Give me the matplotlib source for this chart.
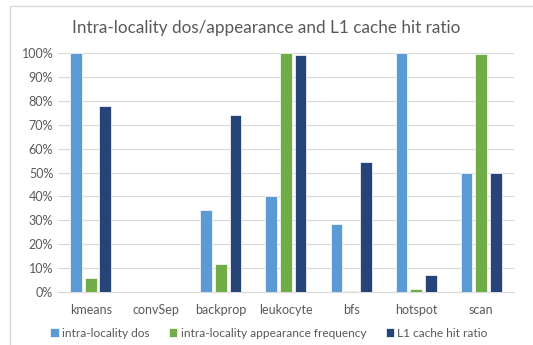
import numpy as np
import matplotlib.pyplot as plt
from matplotlib.patches import Rectangle

plt.rcParams['font.family'] = ['Lato', 'DejaVu Sans']

benchmarks = ['kmeans', 'convSep', 'backprop', 'leukocyte', 'bfs', 'hotspot', 'scan']
dos = [100, 0, 34.3, 40.2, 28.5, 100, 50]
freq = [5.7, 0, 11.7, 100, 0.2, 1.0, 99.6]
hit = [77.8, 0, 74.2, 99.2, 54.5, 7.2, 50]

labels = ['intra-locality dos', 'intra-locality appearance frequency', 'L1 cache hit ratio']
colors = ['#5B9BD5', '#70AD47', '#264478']

fig = plt.figure(figsize=(5.33, 3.45), dpi=100)
ax = fig.add_axes([0.109, 0.154, 0.855, 0.692])

# light frame around the chart like Excel's chart area
fig.patches.append(Rectangle((10 / 533, -0.05), 1.0, 1.0 - 6 / 345 + 0.05,
                             transform=fig.transFigure, fill=False,
                             edgecolor='#D9D9D9', linewidth=1))

x = np.arange(len(benchmarks))
w = 0.18
step = 0.225
for i, (vals, c, lab) in enumerate(zip([dos, freq, hit], colors, labels)):
    ax.bar(x + (i - 1) * step, vals, width=w, color=c, label=lab,
           edgecolor='white', linewidth=0.5, zorder=3)

ax.set_xlim(-0.5, len(benchmarks) - 0.5)
ax.set_ylim(0, 100)
ax.set_yticks(np.arange(0, 101, 10))
ax.set_yticklabels([f'{v}%' for v in range(0, 101, 10)])
ax.set_xticks(x)
ax.set_xticklabels(benchmarks)
ax.tick_params(length=0, labelsize=9, colors='#595959')
ax.tick_params(axis='x', pad=9)
ax.grid(axis='y', color='#D9D9D9', linewidth=0.8, zorder=0)
for s in ['top', 'right', 'left']:
    ax.spines[s].set_visible(False)
ax.spines['bottom'].set_color('#D9D9D9')

fig.text(0.5, 0.92, 'Intra-locality dos/appearance and L1 cache hit ratio',
         ha='center', va='center', fontsize=12.3, color='#595959')

ax.legend(loc='upper center', bbox_to_anchor=(0.463, -0.105), ncol=3, frameon=False,
          fontsize=8.6, handlelength=0.7, handleheight=0.7, handletextpad=0.3,
          columnspacing=1.6, labelcolor='#595959')

fig.savefig('out.png', dpi=100)
